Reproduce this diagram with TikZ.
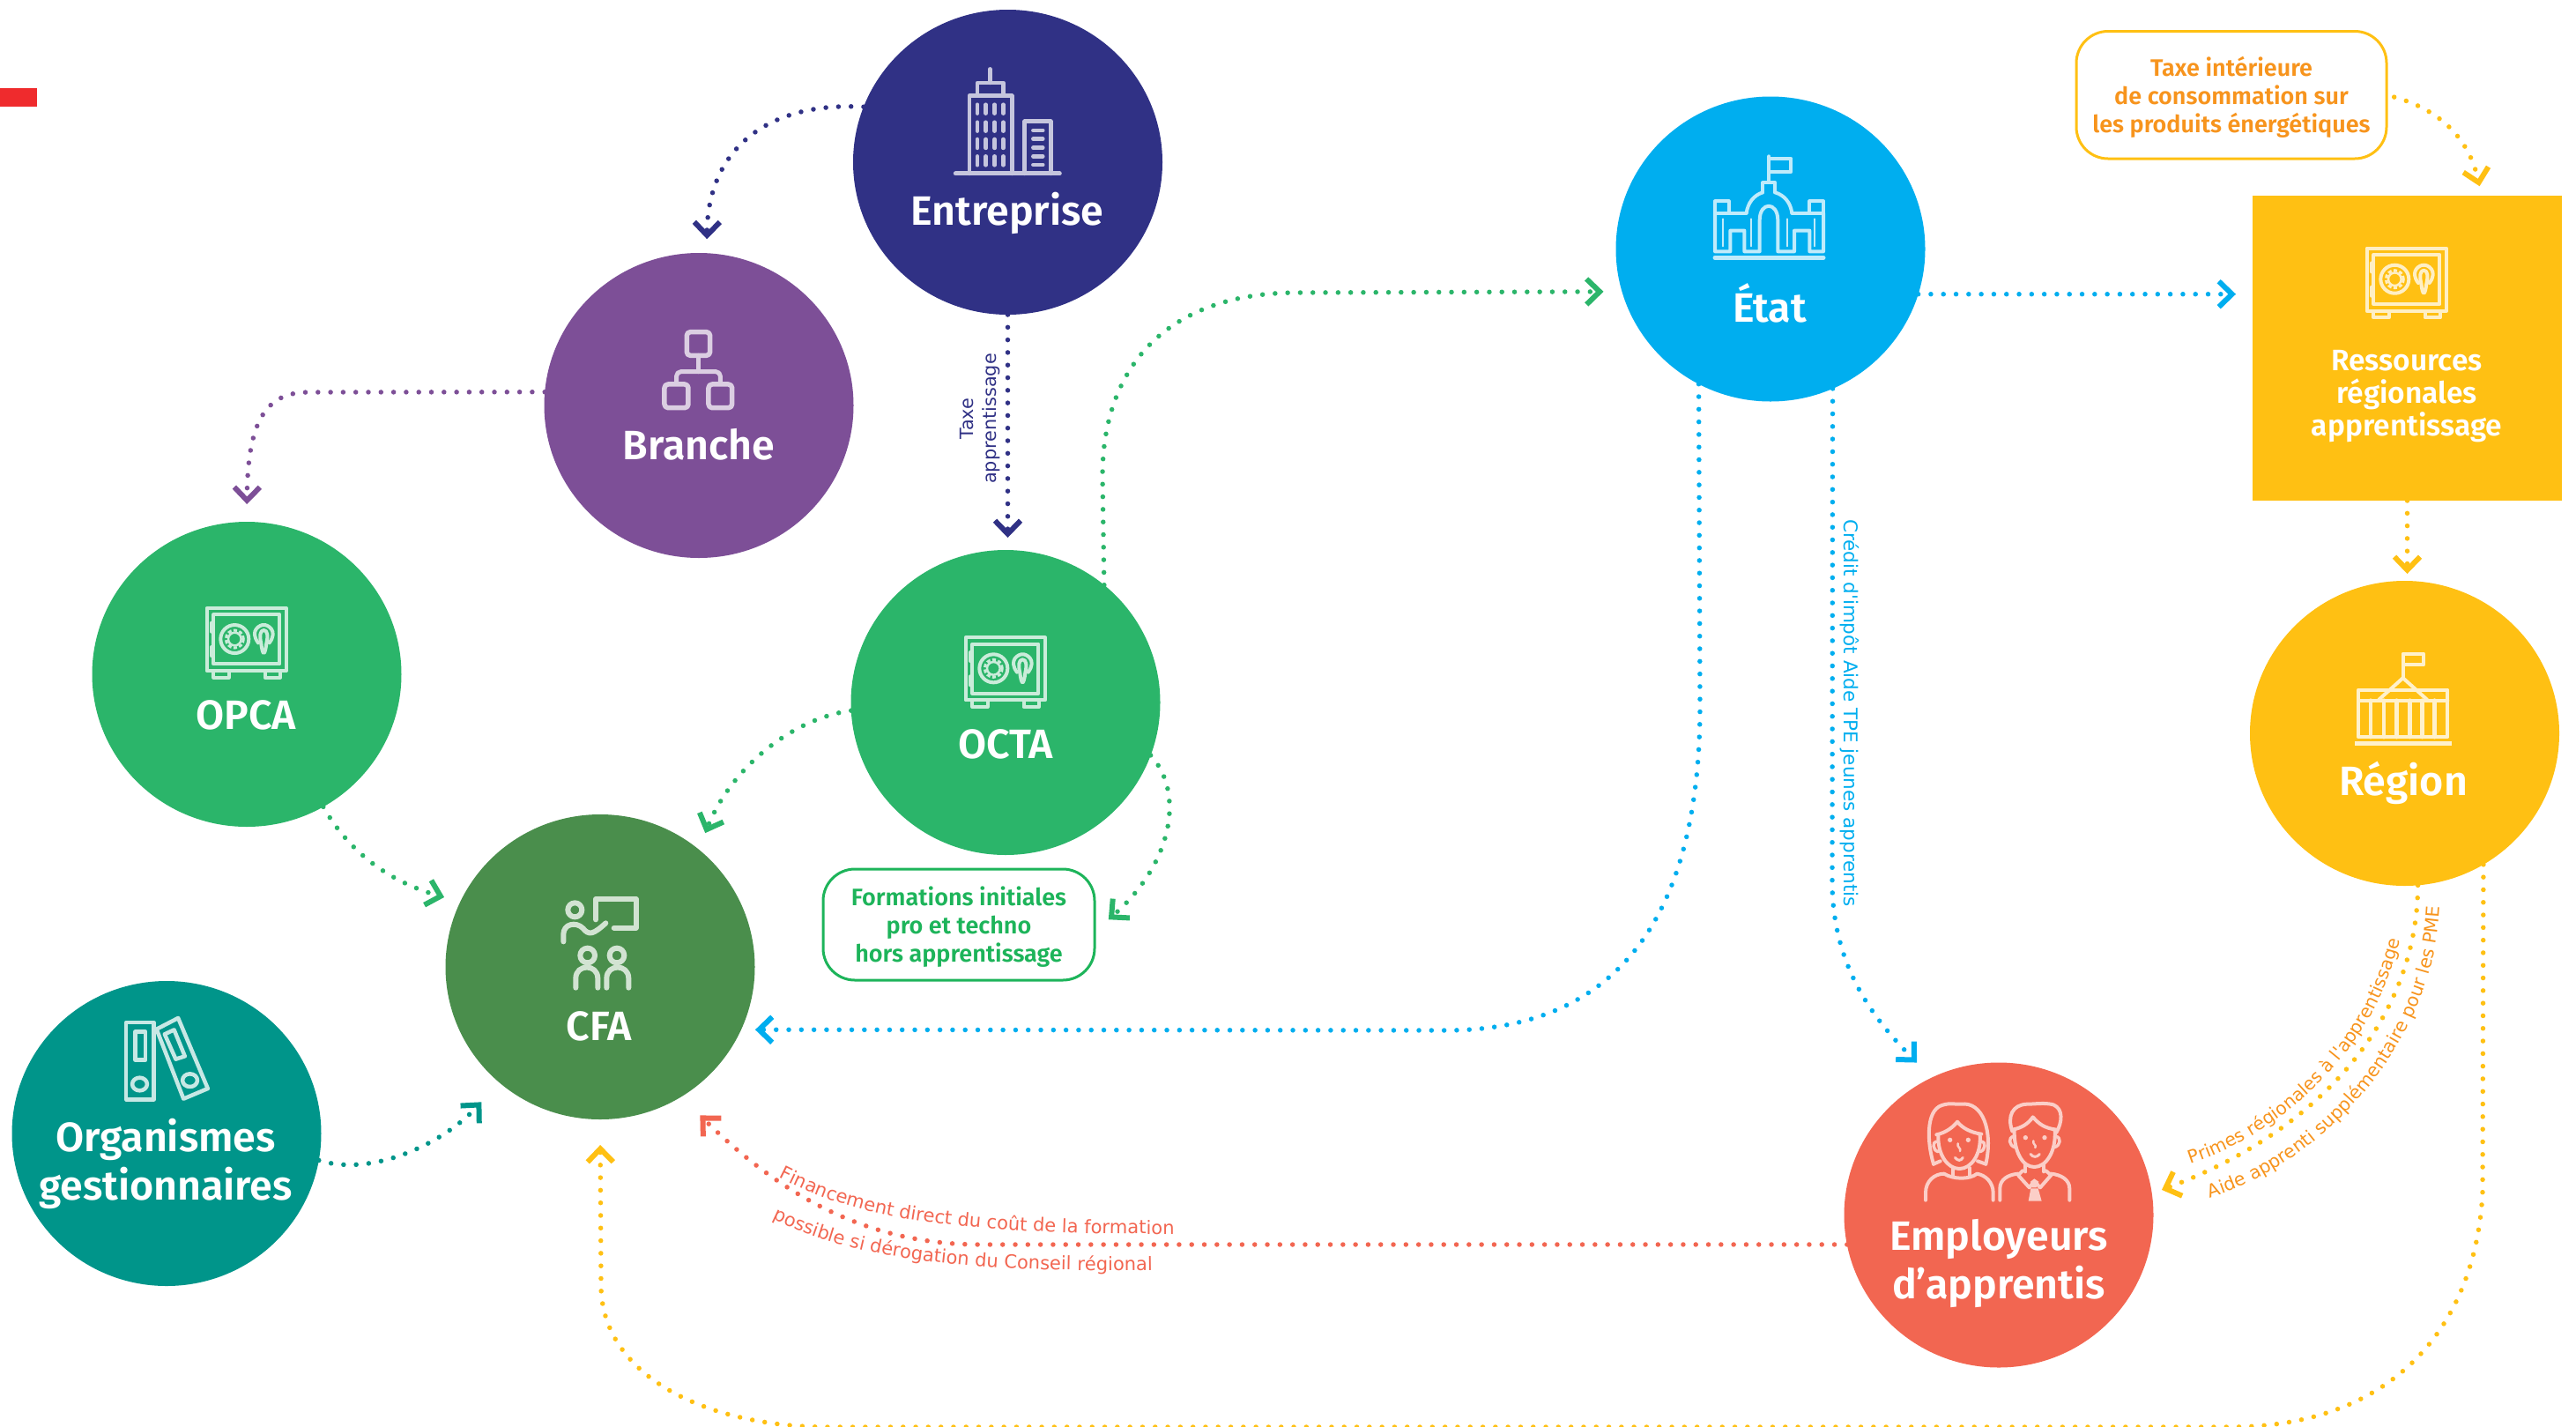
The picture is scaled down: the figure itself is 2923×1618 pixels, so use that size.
\documentclass[tikz,border=0pt]{standalone}
\usepackage{fontspec}
\setmainfont{Fira Sans}
\newfontfamily\semi{Fira Sans SemiBold}
\newfontfamily\djv{DejaVu Sans}
\usetikzlibrary{arrows.meta,shapes.geometric,backgrounds,decorations.text}
\definecolor{cEnt}{HTML}{303185}
\definecolor{cBra}{HTML}{7D4F97}
\definecolor{cGre}{HTML}{2BB56A}
\definecolor{cCfa}{HTML}{4A8E4C}
\definecolor{cOrg}{HTML}{00958A}
\definecolor{cEta}{HTML}{00AEEF}
\definecolor{cYel}{HTML}{FFC013}
\definecolor{cEmp}{HTML}{F26651}
\definecolor{cOra}{HTML}{F7941D}
\definecolor{cBox}{HTML}{1DB45A}
\definecolor{cMark}{HTML}{EF2B2D}
\tikzset{
  circ/.style={ellipse,minimum width=351pt,minimum height=346pt,inner sep=0pt,outer sep=0pt,fill=#1},
  lab/.style={text=white,font=\semi\fontsize{46.5}{55}\selectfont,align=center,anchor=base,inner sep=0pt},
  smalllab/.style={text=white,font=\semi\fontsize{33.5}{37}\selectfont,align=center,anchor=base,inner sep=0pt},
  boxed/.style={rectangle,rounded corners=36pt,line width=3pt,draw=#1,fill=white,inner sep=0pt,outer sep=0pt,align=center,font=\semi\fontsize{27}{32}\selectfont},
  note/.style={font=\djv\fontsize{20.8}{26}\selectfont,align=center,inner sep=0pt},
  dots/.style={draw=#1,line width=5.5pt,line cap=round,dash pattern=on 0pt off 14.3pt,
     -{Straight Barb[length=15pt,width=29pt,line width=6pt]}},
  ico/.style={draw=#1,line width=4.5pt,line cap=round,line join=round,fill=none},
}
\newcommand{\safeicon}[3]{%
\begin{scope}[shift={(#1,#2)},x=0.3333pt,y=-0.3333pt]
  \draw[ico=#3,line width=4pt] (287,130) rectangle (558,343);
  \draw[ico=#3,line width=4pt] (310,152) rectangle (535,320);
  \draw[ico=#3,line width=4pt] (310,343) rectangle (362,366);
  \draw[ico=#3,line width=4pt] (485,343) rectangle (537,366);
  \draw[ico=#3,line width=4pt] (303,180) -- (303,210) (303,262) -- (303,292);
  \draw[ico=#3,line width=4pt] (382,235) circle[radius=48];
  \draw[ico=#3,line width=2.5pt] (382,235) circle[radius=22];
  \draw[draw=#3,line width=3pt,dash pattern=on 4pt off 2.5pt] (382,235) circle[radius=30];
  \draw[ico=#3,line width=4pt] (462,248) .. controls (430,205) and (470,185) .. (481,187) .. controls (492,185) and (532,205) .. (500,248);
  \draw[ico=#3,line width=4pt] (481,205) .. controls (468,205) and (466,225) .. (472,250) .. controls (474,270) and (478,283) .. (481,283) .. controls (484,283) and (488,270) .. (490,250) .. controls (496,225) and (494,205) .. (481,205);
\end{scope}}
\begin{document}
\begin{tikzpicture}[x=1pt,y=-1pt]
\useasboundingbox (0,0) rectangle (2923,1618);
% nodes
\node[rectangle,fill=cMark,minimum width=42pt,minimum height=21pt,inner sep=0pt,outer sep=0pt] (mark) at (21,110.5) {};
\node[circ=cEnt] (entreprise) at (1143.5,184) {};
\node[circ=cBra] (branche) at (793,460) {};
\node[circ=cGre] (opca) at (280,765) {};
\node[circ=cGre] (octa) at (1141,797) {};
\node[circ=cCfa] (cfa) at (681,1097) {};
\node[circ=cOrg] (organismes) at (189,1286) {};
\node[circ=cEta] (etat) at (2009,282.5) {};
\node[circ=cYel] (region) at (2728.5,832) {};
\node[circ=cEmp] (employeurs) at (2268,1378.5) {};
\node[rectangle,fill=cYel,minimum width=351pt,minimum height=346pt,inner sep=0pt,outer sep=0pt] (ressources) at (2731.5,395) {};
\node[boxed=cYel,text=cOra,minimum width=352pt,minimum height=144.5pt] (taxe) at (2532,107.75) {\rule{0pt}{27pt}Taxe intérieure\\de consommation sur\\les produits énergétiques};
\node[boxed=cBox,text=cBox,minimum width=308pt,minimum height=126pt] (formations) at (1088,1049) {\rule{0pt}{27pt}Formations initiales\\pro et techno\\hors apprentissage};
% labels
\node[lab] (tEnt) at (1143,255) {Entreprise};
\node[lab] (tBra) at (793,521) {Branche};
\node[lab] (tOpc) at (279,827) {OPCA};
\node[lab] (tOct) at (1141,860) {OCTA};
\node[lab] (tCfa) at (680,1180) {CFA};
\node[lab] (tOrg) at (188,1361) {Organismes\\gestionnaires};
\node[lab] (tEta) at (2008,365) {État};
\node[lab] (tReg) at (2727,902) {Région};
\node[lab] (tEmp) at (2268,1473) {Employeurs\\d’apprentis};
\node[smalllab] (tRes) at (2731,494) {Ressources\\régionales\\apprentissage};
\node[note,text=cEnt,rotate=90] (tTaxeA) at (1112,475) {Taxe\\apprentissage};
\node[note,text=cEta,rotate=-90] (tCredit) at (2099,809) {\fontsize{21.5}{26}\selectfont Crédit d'impôt Aide TPE jeunes apprentis};
% connectors
\begin{scope}[on background layer]
\draw[dots=cEnt,shorten >=16pt] (entreprise.159) .. controls (870,115) and (803,170) .. (branche.87);
\draw[dots=cEnt,shorten >=14pt] (entreprise.south) -- (entreprise.south |- octa.north);
\draw[dots=cBra,shorten >=20pt] (branche.175) -- (350,445) .. controls (300,445) and (281,480) .. (opca.north);
\draw[dots=cGre,shorten >=21pt] (octa.50.8) -- (1251,540) .. controls (1251,420) and (1320,332) .. (1473,332) -- (etat.196.6);
\draw[dots=cGre,shorten >=20pt] (octa.183.3) .. controls (900,815) and (830,870) .. (cfa.50);
\draw[dots=cGre,shorten >=19pt] (opca.-60) .. controls (395,965) and (440,1000) .. (cfa.155);
\draw[dots=cGre,shorten >=21pt] (octa.-20) .. controls (1345,900) and (1330,980) .. (formations.-3.3);
\draw[dots=cOrg,shorten >=30pt] (organismes.-10.8) .. controls (420,1335) and (500,1300) .. (cfa.229.2);
\draw[dots=cEta,shorten >=16pt] (etat.242.5) -- (1929,800) .. controls (1929,1060) and (1820,1169) .. (1640,1169) -- (cfa.-24.2);
\draw[dots=cEta,shorten >=19pt] (etat.-17.3) -- (etat.-17.3 -| ressources.west);
\draw[dots=cEta,shorten >=24pt] (etat.-66.2) -- (2079,1000) .. controls (2079,1100) and (2130,1160) .. (employeurs.116);
\draw[dots=cYel,shorten <=9pt,shorten >=11pt] (taxe.east) .. controls (2760,122) and (2800,150) .. (ressources.64.5);
\draw[dots=cYel,shorten >=8pt] (ressources.south) -- (ressources.south |- region.north);
\draw[dots=cYel,shorten >=29pt] (region.-59.4) -- (2817,1352) .. controls (2810,1500) and (2720,1619) .. (2530,1619) -- (940,1619) .. controls (800,1619) and (682,1560) .. (682,1458) -- (cfa.south);
\draw[dots=cYel,shorten >=12pt] (region.-85.2) .. controls (2743,1150) and (2640,1280) .. (employeurs.8.5);
\draw[dots=cEmp,shorten >=30pt] (employeurs.191.2) -- (1113,1412) .. controls (1000,1412) and (900,1370) .. (cfa.-58);
\end{scope}
% curved labels
\path[decorate,decoration={text along path,text format delimiters={|}{|},text color=cOra,text align=center,
  text={|\djv\fontsize{20.3}{22}\selectfont|Primes régionales à l'apprentissage}}]
  (2460,1328) -- (2480,1322) .. controls (2600,1285) and (2700,1180) .. (2724,1062) -- (2728,1040);
\path[decorate,decoration={text along path,text format delimiters={|}{|},text color=cOra,text align=center,
  text={|\djv\fontsize{20.6}{22}\selectfont|Aide apprenti supplémentaire pour les PME}}]
  (2482,1367) -- (2502,1361) .. controls (2640,1320) and (2765,1180) .. (2769,1022) -- (2769,1002);
\path[decorate,decoration={text along path,text format delimiters={|}{|},text color=cEmp,text align=center,
  text={|\djv\fontsize{21}{22}\selectfont|Financement direct du coût de la formation}}]
  (868,1328) -- (884,1336) .. controls (960,1375) and (1050,1401) .. (1330,1400) -- (1350,1400);
\path[decorate,decoration={text along path,text format delimiters={|}{|},text color=cEmp,text align=center,
  text={|\djv\fontsize{21}{22}\selectfont|possible si dérogation du Conseil régional}}]
  (852,1370) -- (868,1378) .. controls (950,1420) and (1050,1445) .. (1315,1441) -- (1335,1440);
% icon: building
\colorlet{iEnt}{white!72!cEnt}
\begin{scope}[shift={(950,0)},x=0.3333pt,y=-0.3333pt]
  \draw[ico=iEnt] (520,235) -- (520,282);
  \draw[ico=iEnt] (477,322) -- (477,282) -- (566,282) -- (566,322);
  \draw[ico=iEnt] (450,591) -- (450,326) -- (595,326) -- (595,591);
  \foreach \px in {477,506,536,565} \foreach \py in {350,410,468,526}
    \draw[ico=iEnt] (\px,\py+6) -- (\px,\py+36);
  \draw[ico=iEnt] (638,591) -- (638,413) -- (727,413) -- (727,591);
  \foreach \py in {444,473,503,532,561} \draw[ico=iEnt] (667,\py) -- (700,\py);
  \draw[ico=iEnt,line width=5pt] (403,591) -- (757,591);
\end{scope}
% icon: tree
\colorlet{iBra}{white!72!cBra}
\begin{scope}[shift={(600,280)},x=0.3333pt,y=-0.3333pt]
  \draw[ico=iBra,line width=5.5pt,rounded corners=4pt] (538,290) rectangle (617,370);
  \draw[ico=iBra,line width=5.5pt,rounded corners=4pt] (462,468) rectangle (543,548);
  \draw[ico=iBra,line width=5.5pt,rounded corners=4pt] (612,468) rectangle (692,548);
  \draw[ico=iBra,line width=5pt] (578,370) -- (578,425);
  \draw[ico=iBra,line width=5pt,rounded corners=5pt] (503,465) -- (503,425) -- (652,425) -- (652,465);
\end{scope}
% icon: safes
\safeicon{1000}{680}{white!75!cGre}
\safeicon{139}{646.7}{white!75!cGre}
\safeicon{2590}{238.4}{white!75!cYel}
% icon: teacher
\colorlet{iCfa}{white!75!cCfa}
\begin{scope}[shift={(600,960)},x=0.3333pt,y=-0.3333pt]
  \draw[ico=iCfa,line width=6pt] (157,217) circle[radius=24];
  \draw[ico=iCfa,line width=6pt] (118,325) -- (118,300) .. controls (118,265) and (160,255) .. (185,280) .. controls (205,305) and (220,300) .. (262,262);
  \draw[ico=iCfa,line width=6pt] (228,250) -- (228,180) -- (365,180) -- (365,278) -- (290,278);
  \draw[ico=iCfa,line width=6pt] (200,372) circle[radius=25];
  \draw[ico=iCfa,line width=6pt] (300,372) circle[radius=25];
  \draw[ico=iCfa,line width=6pt] (160,482) -- (160,450) .. controls (160,400) and (235,400) .. (235,450) -- (235,482);
  \draw[ico=iCfa,line width=6pt] (265,482) -- (265,450) .. controls (265,400) and (340,400) .. (340,450) -- (340,482);
\end{scope}
% icon: binders
\colorlet{iOrg}{white!78!cOrg}
\begin{scope}[shift={(121,1100)},x=0.3827pt,y=-0.3333pt]
  \draw[ico=iOrg] (58,180) rectangle (140,442);
  \draw[ico=iOrg] (85,212) rectangle (115,308);
  \draw[ico=iOrg] (98,390) circle[radius=22];
  \draw[ico=iOrg] (148,203) -- (212,165) -- (300,405) -- (228,440) -- cycle;
  \draw[ico=iOrg] (172,220) -- (200,205) -- (232,295) -- (205,305) -- cycle;
  \draw[ico=iOrg] (247,377) circle[radius=22];
\end{scope}
% icon: palace
\colorlet{iEta}{white!75!cEta}
\begin{scope}[shift={(1900,140)},x=0.3333pt,y=-0.3333pt]
  \draw[ico=iEta,line width=4pt] (322,112) -- (322,200);
  \draw[ico=iEta,line width=4pt] (322,120) -- (397,120) -- (397,165) -- (322,165);
  \draw[ico=iEta,line width=4pt] (300,235) -- (300,202) -- (343,202) -- (343,235);
  \draw[ico=iEta,line width=4pt] (245,305) .. controls (250,270) and (270,245) .. (300,235);
  \draw[ico=iEta,line width=4pt] (400,305) .. controls (395,270) and (375,245) .. (343,235);
  \draw[ico=iEta,line width=4pt] (138,305) -- (245,305) (400,305) -- (507,305);
  \draw[ico=iEta,line width=4pt] (138,305) -- (138,265) -- (185,265) -- (185,305);
  \draw[ico=iEta,line width=4pt] (507,305) -- (507,265) -- (460,265) -- (460,305);
  \draw[ico=iEta,line width=4pt] (138,305) -- (138,436) -- (190,436) -- (190,365) -- (238,365) -- (238,436) -- (290,436) -- (290,330) .. controls (290,265) and (352,265) .. (352,330) -- (352,436) -- (408,436) -- (408,365) -- (460,365) -- (460,436) -- (507,436) -- (507,305);
  \draw[ico=iEta,line width=2pt] (165,325) -- (165,418) (262,325) -- (262,418) (383,325) -- (383,418) (478,325) -- (478,418);
  \draw[ico=iEta,line width=5pt] (138,457) -- (507,457);
\end{scope}
% icon: parliament
\colorlet{iReg}{white!78!cYel}
\begin{scope}[shift={(2500,700)},x=0.3333pt,y=-0.4464pt]
  \draw[ico=iReg,line width=4pt,line cap=butt] (680,155) -- (680,93) -- (750,93) -- (750,122) -- (680,122);
  \draw[ico=iReg,line width=4pt] (598,210) -- (680,155) -- (762,210);
  \draw[ico=iReg,line width=4pt] (528,305) rectangle (832,185);
  \draw[ico=iReg,line width=4pt] (528,212) -- (832,212);
  \foreach \px in {570,615,658,703,745,788} \draw[ico=iReg,line width=4.5pt] (\px,212) -- (\px,305);
  \draw[ico=iReg,line width=5pt,line cap=butt] (516,321) -- (846,321);
\end{scope}
% icon: employers
\colorlet{iEmp}{white!68!cEmp}
\begin{scope}[shift={(2120,1230)},x=0.3333pt,y=-0.3333pt]
  % woman
  \draw[ico=iEmp,line width=4pt] (222,272) .. controls (200,200) and (195,90) .. (250,72) .. controls (280,62) and (300,70) .. (315,68) .. controls (390,58) and (425,160) .. (400,272);
  \draw[ico=iEmp,line width=4pt] (222,272) -- (245,262) (400,272) -- (372,262);
  \draw[ico=iEmp,line width=4pt] (232,172) .. controls (265,165) and (290,145) .. (303,128) .. controls (320,150) and (350,165) .. (385,170);
  \draw[ico=iEmp,line width=4pt] (238,172) .. controls (235,240) and (270,288) .. (310,288) .. controls (350,288) and (385,240) .. (380,172);
  \draw[ico=iEmp,line width=3.5pt] (232,195) .. controls (218,195) and (218,225) .. (238,230);
  \draw[ico=iEmp,line width=3.5pt] (386,195) .. controls (400,195) and (400,225) .. (380,230);
  \fill[iEmp] (278,190) circle[radius=8] (340,190) circle[radius=8];
  \draw[ico=iEmp,line width=2.5pt] (305,202) .. controls (300,215) and (318,218) .. (312,228);
  \draw[ico=iEmp,line width=3pt] (295,250) .. controls (305,262) and (315,262) .. (322,250);
  \draw[ico=iEmp,line width=4pt] (288,285) -- (288,315) (345,285) -- (345,315);
  \draw[ico=iEmp,line width=4pt] (195,395) -- (195,370) .. controls (195,330) and (225,305) .. (258,305) .. controls (290,325) and (345,325) .. (370,305) .. controls (400,310) and (425,335) .. (425,370) -- (425,395);
  % man
  \draw[ico=iEmp,line width=4pt] (490,160) .. controls (472,110) and (490,70) .. (540,68) .. controls (570,68) and (600,62) .. (630,70) .. controls (665,85) and (660,130) .. (640,165);
  \draw[ico=iEmp,line width=4pt] (490,155) .. controls (520,150) and (545,135) .. (560,112) .. controls (580,135) and (600,150) .. (640,155);
  \draw[ico=iEmp,line width=4pt] (497,155) .. controls (495,230) and (525,282) .. (565,282) .. controls (605,282) and (640,230) .. (635,155);
  \draw[ico=iEmp,line width=3.5pt] (495,178) .. controls (475,180) and (478,210) .. (500,215);
  \draw[ico=iEmp,line width=3.5pt] (638,178) .. controls (658,180) and (655,210) .. (633,215);
  \fill[iEmp] (535,182) circle[radius=8] (600,182) circle[radius=8];
  \draw[ico=iEmp,line width=2.5pt] (562,193) .. controls (558,205) and (575,208) .. (568,216);
  \draw[ico=iEmp,line width=3pt] (552,238) .. controls (560,250) and (575,250) .. (583,238);
  \draw[ico=iEmp,line width=4pt] (535,272) -- (535,298) (598,272) -- (598,298);
  \draw[ico=iEmp,line width=4pt] (525,295) -- (510,310) -- (548,352) -- (565,330) -- (585,352) -- (622,310) -- (605,295);
  \fill[iEmp] (553,355) -- (578,355) -- (590,398) -- (545,398) -- cycle;
  \fill[iEmp] (552,332) -- (565,322) -- (580,332) -- (572,352) -- (558,352) -- cycle;
  \draw[ico=iEmp,line width=4pt] (448,395) -- (448,355) .. controls (448,325) and (475,308) .. (510,305);
  \draw[ico=iEmp,line width=4pt] (685,395) -- (685,355) .. controls (685,325) and (655,308) .. (622,305);
\end{scope}
\end{tikzpicture}
\end{document}
